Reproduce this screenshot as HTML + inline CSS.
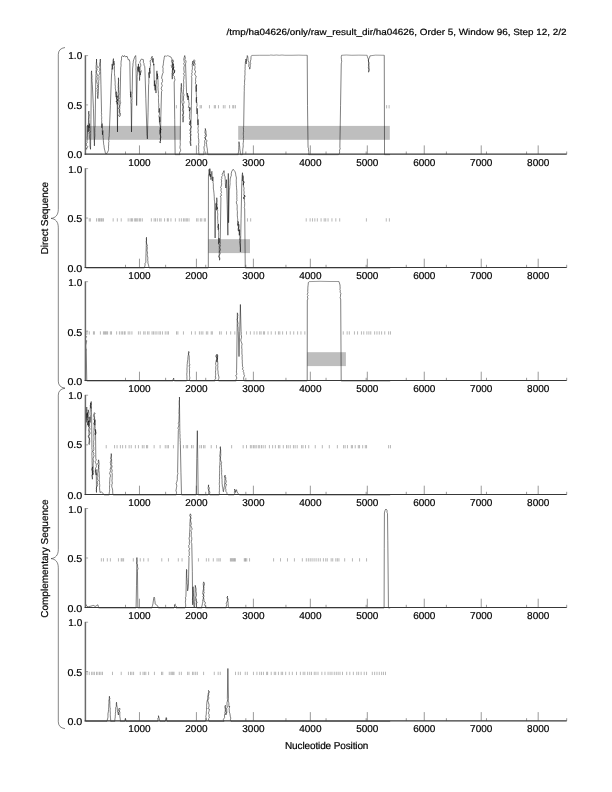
<!DOCTYPE html>
<html><head><meta charset="utf-8"><title>plot</title>
<style>html,body{margin:0;padding:0;background:#fff;}svg{display:block;will-change:transform;}text{stroke:#000;stroke-width:0.2px;text-rendering:geometricPrecision;font-family:"Liberation Sans",sans-serif;fill:#000;}</style>
</head><body>
<svg width="612" height="792" viewBox="0 0 612 792">
<rect x="0" y="0" width="612" height="792" fill="#fff"/>
<text x="566.6" y="35.3" font-size="9" text-anchor="end" textLength="340" lengthAdjust="spacingAndGlyphs">/tmp/ha04626/only/raw_result_dir/ha04626, Order 5, Window 96, Step 12, 2/2</text>
<g>
<rect x="85.4" y="125.9" width="95.2" height="13.9" fill="#bebebe"/>
<rect x="238.2" y="125.9" width="151.6" height="13.9" fill="#bebebe"/>
<path d="M176.4 105.1v3.3M200.14 105.1v3.3M201.39 105.1v3.3M209.44 105.1v3.3M214.31 105.1v3.3M215.42 105.1v3.3M218.47 105.1v3.3M223.33 105.1v3.3M225 105.1v3.3M229.58 105.1v3.3M232.78 105.1v3.3M233.75 105.1v3.3M235.42 105.1v3.3M386.61 105.1v3.3M389.11 105.1v3.3" stroke="#707070" stroke-width="0.5" fill="none"/>
<path d="M85.67 147.22 L86.22 148.89 L86.78 149.31 L86.74 148.48 L87.73 146.59 L86.18 145 L86.36 143.65 L87.21 142.54 L86.96 141.71 L87.2 139.51 L87.25 138.69 L87.16 137.24 L87.38 135.85 L87.35 134.92 L87.47 133.33 L87.53 131.91 L87.59 131.07 L87.66 129.29 L87.76 128.13 L87.72 125.93 L87.89 125 L87.77 126.02 L88.15 127.54 L88.15 128.8 L88.29 130.9 L88.17 131.94 L88.15 130.71 L88.34 129.19 L88.26 127.45 L88.26 126.1 L88.08 125.39 L88.31 124.01 L88.58 122.24 L88.6 120.69 L88.44 119.44 L88.71 117.74 L88.71 116.91 L88.78 115.06 L88.68 114.33 L88.62 112.71 L88.86 111.11 L88.87 112.07 L88.83 113.7 L89.25 115.02 L88.97 116.36 L88.91 118.46 L88.89 119.3 L89.02 121.04 L89.01 122.02 L89.06 123.61 L89.04 124.83 L89.08 126.83 L89.14 127.78 L88.85 126.55 L89.39 124.86 L89.42 123.61 L89.59 124.7 L89.39 126.09 L89.62 128.16 L89.48 129.61 L89.28 130.92 L90.37 131.68 L89.01 133.11 L89.78 134.42 L89.69 136.11 L89.6 137.04 L89.89 139.17 L90.04 139.83 L89.94 141.85 L90 143.03 L90.02 144.55 L89.97 145.83 L90.31 148.01 L90.53 149.31 L90.94 119.44 L91.36 72.22 L91.64 70.83 L91.66 72.39 L91.66 73.78 L91.91 75.3 L92.06 76.8 L91.83 78.05 L92.14 79.36 L91.96 80.35 L92.07 81.72 L92.22 83.17 L92.33 84.72 L93.44 108.33 L94.42 145.83 L94.39 144.77 L94.54 143.18 L94.45 142.3 L94.45 140.11 L94.71 138.81 L94.65 138 L94.8 136.92 L94.9 135.71 L94.87 133.79 L94.79 132.74 L94.91 131.05 L94.81 130.17 L94.84 128.43 L94.91 127.59 L95.18 125.94 L95.11 125 L95.81 77.78 L95.93 76.38 L95.94 75.16 L96.11 73.49 L96.14 72.32 L95.97 70.76 L96.26 69.55 L96.13 68.87 L96.05 67.27 L96.14 65.54 L96.38 64.08 L96.27 63.18 L96.44 62.01 L96.63 60.25 L96.5 59.03 L96.53 59.99 L96.49 61.24 L96.7 63.15 L96.82 64.67 L97.04 65.52 L97.37 67.15 L96.79 68.5 L97.23 69.59 L96.55 71.24 L96.27 72.84 L96.96 73.67 L97.41 75.47 L96.83 76.54 L97.19 77.78 L97.21 79.35 L96.78 80.41 L96.75 81.57 L97.18 83.36 L98.08 84.56 L97.36 85.21 L98 87.08 L96.83 88.44 L97.51 89.17 L97.1 91.26 L97.73 92.12 L97.21 92.99 L97.7 94.54 L97.72 95.7 L97.67 97.12 L97.89 98.61 L97.81 97.03 L98 95.33 L98.19 94.03 L98.31 93.57 L98.4 91.25 L98.46 90.17 L98.51 89.21 L98.43 87.5 L98.45 85.7 L98.58 84.72 L98.71 83.43 L98.65 81.63 L98.63 81.09 L98.99 79.67 L98.85 78.27 L99.12 76.69 L98.58 75.85 L99.34 74.33 L99.95 72.84 L98.88 71.36 L99.84 70.24 L99.74 68.81 L98.82 67.9 L99.09 66.68 L99.77 65.1 L99.56 63.89 L100.11 61.84 L100.14 60.26 L100.39 59.03 L100.94 84.72 L101.5 111.11 L101.36 112.22 L101.7 114.22 L101.36 115.35 L101.62 116.37 L101.73 117.75 L101.58 119.63 L101.74 120.51 L101.66 121.72 L101.73 123.8 L101.76 124.92 L101.7 126.41 L101.78 127.78 L102.04 126.11 L102 124.9 L102.19 123.61 L102.15 124.61 L102.25 126.66 L102.4 127.7 L102.37 129.54 L102.23 130.79 L102.31 131.67 L102.47 132.94 L102.47 134.72 L102.45 133.31 L102.78 132.45 L102.89 130.56 L102.77 131.46 L102.86 133.06 L103.06 135.13 L103.13 135.86 L103.1 137.53 L103.33 139.05 L103.31 140.28 L103.49 142.1 L103.6 143.2 L103.65 144.38 L104 145.61 L104.14 147.22 L104.43 149.15 L104.77 150.19 L105.18 152.08 L105.53 153.47 L106.92 153.47 L107.45 152.37 L108.31 150.69 L108.51 149.54 L108.6 148.35 L108.48 146.88 L108.68 144.89 L108.63 143.78 L108.69 142.29 L108.97 141.41 L108.71 140.48 L108.85 138.5 L108.95 137.26 L109.26 135.75 L109.16 134.21 L109.28 133.33 L110.39 105.56 L111.5 75 L111.6 73.78 L111.73 72.66 L111.93 70.56 L111.72 69.08 L111.89 67.86 L112.03 67.17 L112 65.43 L112.19 63.89 L112.35 65.48 L112.52 66.51 L112.63 67.8 L112.61 69.44 L112.72 67.88 L112.62 66.13 L112.9 64.58 L112.83 63.38 L112.99 61.71 L113.03 60.42 L113.44 58.61 L113.52 59.94 L113.55 61.25 L113.67 62.38 L113.82 64.45 L113.72 65.28 L113.97 64.15 L113.81 62.85 L114 61.11 L113.92 62.46 L114.18 63.42 L114.16 65.5 L114.5 66.78 L114.42 68.06 L114.38 69.94 L114.49 71.15 L114.46 72.65 L114.5 73.56 L114.56 75.14 L114.9 76.85 L114.83 77.78 L114.94 79.02 L115.07 81.01 L115.2 82.39 L115.17 83.19 L115.08 84.4 L115.38 86.54 L115.3 87.12 L115.35 88.81 L115.66 90.09 L115.67 91.67 L115.85 93.22 L115.78 94.68 L116.09 95.77 L116.08 97.22 L116.11 96.18 L116.23 94.27 L115.85 93.24 L116.36 91.67 L116.59 93.51 L116.65 94.93 L116.66 95.61 L116.64 97.19 L116.46 98.89 L117.42 100.49 L116 101.01 L117.19 102.73 L116.78 104.17 L117.54 103.31 L116.35 101.55 L117.57 100.11 L116.66 98.74 L116.85 97.52 L117.19 95.83 L117.47 131.94 L117.75 102.78 L118.08 101.37 L117.98 99.76 L118.67 98.46 L118.15 97.71 L118.17 95.83 L118.2 94.33 L118.02 93.49 L118.34 91.65 L118.2 89.84 L118.44 89.02 L118.13 87.79 L118.34 85.82 L118.18 84.85 L118.36 83.18 L118.5 81.82 L118.53 80.24 L118.35 79.11 L118.44 77.78 L118.56 78.87 L118.67 80.63 L118.48 81.52 L118.52 82.51 L118.49 84.55 L118.58 85.89 L118.55 86.93 L118.73 87.96 L118.58 89.59 L118.75 90.72 L118.86 92.61 L119.04 93.53 L119 94.81 L118.7 95.52 L118.73 97.15 L119 98.61 L118.19 99.59 L119.12 100.9 L119.23 103.11 L118.86 104.35 L119.51 105.09 L119.42 107.11 L118.54 108.54 L119.57 109.72 L119.24 110.94 L119.3 112.49 L119.9 113.73 L118.64 114.94 L119.56 116.67 L120.29 115.53 L120.42 113.51 L119.82 112.74 L119.82 110.76 L119.59 109.68 L119.82 108.6 L119.72 106.62 L119.98 105.19 L120.09 104.49 L120.68 102.4 L120.31 101.55 L120.09 99.84 L120.11 98.61 L120.67 70.83 L120.7 69.92 L120.72 67.64 L120.92 66.74 L121.09 65.64 L120.96 63.39 L121.06 62.54 L121.13 60.93 L121.47 59.96 L121.55 58.83 L121.5 56.94 L122.61 55.56 L123.58 56.94 L124.56 55.56 L125.67 56.94 L127.06 56.25 L127.79 58.34 L128.17 59.72 L129.28 59.72 L129.68 61.29 L129.83 62.5 L130.25 88.89 L130.35 90.01 L130.35 92.12 L130.54 93.48 L130.35 93.99 L130.51 95.57 L130.53 97.22 L130.7 95.52 L130.56 93.99 L130.56 93.25 L130.81 91.67 L130.96 93.12 L130.92 94.39 L130.8 95.88 L131.04 97.03 L130.83 98.44 L131.07 99.75 L130.9 101.53 L130.86 102.82 L131.09 104.06 L131.08 105.56 L131.5 131.94 L131.92 102.78 L132.07 101.54 L131.85 100.37 L132.15 98.66 L132.02 97.33 L132.03 95.72 L131.97 94.23 L132.23 93.34 L132.19 91.67 L132.61 68.06 L132.77 67.11 L132.99 65.2 L132.9 63.93 L133.25 62.57 L133.31 61.11 L133.76 59.7 L134.4 57.87 L134.69 56.94 L135.67 55.56 L135.82 57.41 L135.85 58.73 L135.82 59.2 L135.97 60.74 L135.72 62.77 L135.8 63.7 L135.88 65.17 L136.05 66.8 L136.04 67.67 L135.93 69.48 L136.08 70.83 L136.64 105.56 L137.19 77.78 L137.14 76.46 L137.36 74.58 L137.54 73.27 L137.44 72.43 L137.59 70.59 L137.5 69.38 L137.69 67.59 L137.75 66.67 L137.92 68.49 L138.02 69.72 L138.17 70.83 L138.09 69.41 L138.45 67.96 L138.23 67.07 L138.54 65.42 L138.44 63.89 L138.37 65.15 L138.5 66.61 L138.73 68.2 L138.74 69.71 L138.66 71.21 L138.86 72.22 L139.06 70.48 L138.94 69.07 L139.25 67.69 L139.28 66.67 L139.17 68.27 L139.34 69.84 L139.53 70.53 L139.4 71.73 L139.34 73.9 L139.49 75.36 L139.58 76.3 L139.51 77.8 L139.59 79.63 L139.56 80.56 L139.62 79.31 L139.58 77.49 L139.81 76.74 L140.19 74.62 L140.37 73.8 L139.95 72.64 L139.97 70.83 L140.09 72.36 L140.32 73.9 L140.25 75 L140.2 73.11 L140.95 72.33 L141.2 70.69 L140.07 69.41 L140.06 67.73 L140.68 66.31 L140.84 65.06 L140.53 63.89 L139.88 62.66 L140.18 61.05 L140.94 59.72 L141.39 59.03 L143.47 59.72 L143.39 60.82 L143.45 62.73 L143.97 63.46 L144 65.15 L144.67 66.26 L144.86 68.06 L145.83 98.61 L146.94 133.33 L146.95 134.83 L147.24 136.09 L147.28 137.59 L147.36 138.89 L148.06 112.5 L148.61 84.72 L148.75 83.78 L148.85 82.39 L148.82 80.14 L148.76 79.65 L148.93 78.09 L148.83 76.04 L148.79 74.87 L148.75 73.41 L149.03 72.22 L148.97 73.2 L149.01 74.59 L149.31 75.89 L149.31 77.78 L149.4 76.57 L149.49 75.37 L149.37 73.76 L149.55 72.62 L149.41 71.33 L149.55 69.51 L149.58 68.06 L149.52 69.51 L149.92 71.32 L149.96 72.22 L150 73.61 L150.04 72.58 L149.97 70.45 L149.99 69.56 L150.15 68.05 L150.06 66.97 L150.68 65.25 L150.36 63.85 L150.42 62.5 L149.97 60.81 L151.77 59.38 L151.11 58.33 L152.22 56.25 L152.16 57.38 L152.44 59.56 L152.38 61.39 L152.78 62.5 L152.82 60.73 L152.9 60.09 L153.19 58.33 L153.44 59.96 L153.37 60.85 L153.53 62.41 L153.58 63.89 L153.61 65.28 L153.89 63.89 L154.31 86.11 L154.41 84.87 L154.65 82.98 L154.44 82.42 L154.72 80.56 L154.67 82.13 L154.83 82.96 L154.87 85.23 L154.9 85.88 L154.89 87.81 L155.09 88.89 L155 90.28 L155.05 89.06 L155.07 87.15 L155.2 85.71 L155.42 84.72 L155.52 85.87 L155.7 87.28 L155.71 89.32 L155.7 89.87 L155.89 91.48 L155.97 93.06 L156.11 91.37 L156.13 90.65 L155.92 88.74 L155.96 87.05 L156.03 86.26 L156.05 84.36 L156.38 83.08 L156.25 81.94 L156.24 80.77 L156.47 79.08 L156.39 77.78 L156.52 76.9 L156.57 75.07 L156.67 73.61 L156.88 71.76 L156.94 70.83 L156.93 72.05 L156.92 73.99 L157.11 74.96 L157.29 76.53 L157.32 77.99 L157.22 79.17 L157.45 77.44 L157.44 76.36 L157.49 74.81 L157.5 73.61 L157.39 75.53 L157.92 76.24 L157.78 77.78 L157.83 79.09 L158.03 80.65 L158.02 82.14 L158.06 82.52 L158.08 84.05 L158.15 85.36 L157.95 87.25 L158.06 88.18 L158.08 89.96 L158.27 90.87 L158.36 91.92 L158.43 93.62 L158.33 94.49 L158.51 96.07 L158.54 97.39 L158.47 98.61 L158.46 100.23 L158.52 101.15 L158.53 102.51 L158.74 103.85 L158.85 106 L158.59 107.02 L159.18 108.78 L159.05 110.14 L158.7 111.52 L158.89 112.5 L159.23 111.05 L159.12 109.94 L159.17 108.33 L159.31 109.36 L159.48 110.72 L159.48 112.31 L159.44 114.34 L159 115.76 L158.96 117.08 L159.29 117.69 L159.38 119.09 L159.41 120.62 L159.44 122.22 L159.68 120.98 L159.45 119.4 L159.7 118.18 L159.72 116.67 L159.76 117.54 L160.04 119.32 L160.12 121.3 L159.46 122.62 L159.79 124.11 L159.82 124.91 L160.4 126.24 L160.29 127.82 L159.84 129.58 L159.66 130.15 L160.01 132.23 L160 133.33 L159.99 132.14 L160.5 130.48 L160.74 129.37 L160.14 127.78 L160.95 129.29 L160.31 130.33 L160.67 132.32 L159.76 133.69 L160.24 135.15 L160.61 135.89 L160.99 137.78 L160.08 138.43 L160.59 140.75 L159.47 141.81 L160.42 143.06 L160.83 116.67 L161.53 91.67 L162.1 90.49 L161.18 88.86 L161.58 87.07 L162.34 85.78 L161.89 84.85 L161.54 83.13 L162.55 81.5 L162.33 81.04 L162.39 79.2 L161.56 78.13 L161.94 76.13 L162.22 75 L162.83 73.17 L163.2 72.71 L162.97 71.07 L163.02 69.37 L163.14 68.55 L162.65 66.92 L163.27 64.99 L163.39 63.46 L163.57 62.18 L163.61 61.11 L163.98 59.4 L164.17 58.22 L164.23 57.36 L164.72 55.83M169.17 56.25 L170.83 56.94 L171.67 58.33 L171.93 59.8 L171.41 61.17 L171.81 62 L172.44 64.14 L171.18 65.71 L171.71 66.81 L171.94 68.06 L172.84 68.93 L172.26 70.85 L172.46 72.71 L172.14 73.54 L172.15 75.06 L171.97 76.01 L172.28 77.92 L172.22 79.17 L172.33 78.25 L172.42 76.5 L172.48 75.25 L172.26 73.47 L172.39 71.88 L172.46 70.89 L172.54 69.06 L172.5 68.4 L172.5 66.67 L172.52 65.17 L172.77 63.51 L172.72 62.1 L172.65 61.42 L172.78 59.72 L173.41 61.53 L172.69 62.5 L173.12 63.61 L173.34 65.21 L173.75 66.57 L173.36 68.11 L173.06 69.44 L173.57 67.62 L173.01 66.8 L173.09 65.38 L173.33 63.89 L173.15 64.94 L172.97 66.44 L173.9 67.62 L173.16 68.97 L173.63 70.32 L174.44 72.57 L173.61 73.61 L174.47 71.96 L174.74 70.49 L173.89 69.44 L174.78 70.99 L174.44 72 L173.4 73.5 L173.23 75.21 L174.47 76.63 L174.3 77.71 L174.93 79.46 L174.88 80.18 L174.17 81.94 L174.72 119.44 L175.14 154.65 L180 154.65 L179.4 153.01 L179.69 152.44 L180.61 150.65 L180.54 149.45 L179.95 148.1 L180.03 146.36 L180.26 145.14 L180.34 144.48 L180.18 142.43 L180.22 141.44 L180.31 139.81 L180.28 138.89 L180.56 94.44 L180.77 92.69 L180.91 91.83 L180.94 89.9 L180.82 89.33 L181.02 87.9 L181.19 86.41 L181.19 85.05 L181.39 83.33 L181.38 84.25 L181.67 86.56 L181.46 87.59 L181.61 89.05 L181.64 90 L181.74 91.63 L182.11 93.36 L182.08 94.94 L182.08 95.83 L182.08 97.23 L182.14 98.9 L182.22 99.98 L181.89 101.71 L181.96 102.41 L182.48 104.02 L182.55 106.03 L183.15 106.72 L182.71 108.45 L182.64 109.72 L182.31 110.81 L183.6 112.67 L182.57 114.38 L182.36 114.78 L182.87 116.65 L182.83 118.09 L182.68 119.4 L183.01 120.81 L183.06 122.22 L183.13 120.98 L183.4 119.89 L183.25 118.01 L183.72 116.64 L183.03 115.26 L183.55 113.88 L183.17 112.62 L183.75 110.94 L183.06 109.27 L183.33 108.5 L183.3 106.86 L183.33 105.56 L183.08 104.51 L183.99 102.97 L184.07 101.86 L183.43 100.61 L183.55 99.01 L183.54 98.01 L183.54 96 L184.16 95.02 L183.55 93.72 L183.38 92.5 L183.45 91.18 L183.48 89.68 L183.7 88.85 L183.54 87.71 L183.73 86.24 L183.61 84.72 L183.72 83.28 L183.83 81.93 L183.47 80.86 L183.66 79.66 L183.93 78.03 L183.89 76.62 L184.47 75.15 L183.36 73.88 L184.3 72.61 L184.05 70.77 L183.9 69.87 L183.83 67.81 L184.03 66.67 L184.45 65.59 L183.69 63.49 L184.36 62.46 L184.11 60.92 L183.71 59.18 L184.04 58.12 L184.21 57.4 L184.72 55.56 L185.05 56.97 L185.38 57.79 L184.91 59.49 L186.07 60.97 L185.9 62.36 L185.56 63.89 L186.53 91.67 L186.49 92.71 L186.78 94.96 L187.11 96.23 L187.08 97.22 L187.62 96.32 L187.57 94.04 L187.5 93.06 L187.55 94.35 L187.68 95.57 L187.67 97.6 L187.73 98.95 L187.92 100 L188.19 98.58 L188.25 97.2 L188.33 95.83 L188.54 97.24 L188.46 98.62 L188.75 100.46 L188.71 101.45 L188.97 102.92 L189.17 103.8 L188.89 105.56 L188.27 107.31 L189.35 108.28 L189.43 109.55 L189.31 111.11 L190.31 109.64 L189.86 107.86 L189.58 106.94 L190.03 108.58 L189.39 109.47 L189.61 111.27 L189.85 112.02 L189.67 113.51 L189.53 115.06 L189.57 117.11 L189.3 117.58 L189.83 119.53 L190.54 120.4 L189.9 122.15 L189.31 123.74 L190 125 L190.21 123.29 L190.05 122.14 L190.28 120.83 L190.47 121.86 L190.73 123.34 L189.85 124.74 L191.29 126.33 L191.24 127.46 L190.17 129.33 L189.86 130.49 L190.92 131.81 L189.82 133.16 L190.81 135.03 L190.19 136.33 L190.61 137.42 L190.56 138.89 L190.87 140.21 L190.06 141.19 L190.13 143.13 L190.74 144.32 L190.83 145.83 L190.69 144.18 L190.74 142.94 L190.65 141.63 L190.65 140.43 L190.67 138.86 L190.6 137.37 L190.64 136.24 L191.1 134.92 L190.69 133.33 L191.39 105.56 L191.81 77.78 L191.35 76.68 L192.29 74.93 L191.45 74 L192.3 72.14 L191.88 70.72 L192.27 69.66 L192.47 67.74 L192.29 67.05 L192.33 65.24 L192.08 63.89 L193.23 63 L192.78 61.11 L192.36 62.95 L193.26 64.2 L193.47 65.56 L193.8 64.04 L194.23 62.66 L193.37 60.89 L194.17 59.72 L194.95 60.77 L194.52 62.35 L195.18 64.34 L194.66 65.69 L195 66.67 L195.04 67.69 L194.58 69.99 L195.54 71.1 L195.46 72.22 L194.6 73.94 L194.93 74.85 L196.16 76.01 L195.83 77.78 L195.5 79.65 L195.68 80.92 L195.73 81.6 L195.36 83.39 L196.76 85.2 L196.33 85.76 L195.81 87.84 L196.16 88.93 L196.07 89.96 L196.11 91.67 L196.18 89.9 L196.22 89.33 L196.28 87.2 L196.23 86.59 L196.25 84.72 L196.18 86.41 L196.3 87.39 L196.32 89.15 L196.38 89.94 L196.26 91.77 L196.25 92.79 L196.31 94.13 L196.47 96.16 L196.25 97.68 L196.2 98.23 L196.43 99.55 L196.29 101.23 L196.39 102.78 L196.58 101.59 L196.58 99.94 L196.55 98.42 L196.67 97.22 L196.41 98.55 L196.14 99.97 L196.35 101.59 L196.76 102.28 L196.95 103.77 L197.05 105.36 L196.56 107.39 L196.66 108.58 L196.93 109.38 L197.05 111.21 L196.96 112.94 L196.94 113.89 L197.19 112.37 L196.99 110.72 L197.06 109.97 L197.22 108.33 L197.24 110.1 L197.3 111.13 L197.39 113 L197.4 113.87 L197.73 115.08 L197.64 116.67 L197.56 117.66 L197.74 119.52 L197.79 121.22 L197.76 122.45 L197.96 123.6 L197.92 125 L198.08 124.1 L197.97 122.11 L197.91 120.92 L198.06 119.44 L198.14 120.44 L198.08 122.67 L198 124.11 L198.04 125.17 L198.36 126.07 L197.93 128.28 L198.16 129.64 L198.34 130.95 L197.81 132.05 L198.33 133.33 L198.56 134.24 L198.35 135.48 L198.34 137.49 L198.59 138.99 L198.87 139.9 L198.71 140.97 L198.86 142.79 L198.46 144.06 L198.68 145.01 L198.77 146.76 L198.61 147.87 L198.73 149.16 L198.56 151.02 L198.81 151.59 L198.84 153.4 L198.75 154.65 L203.89 154.65 L203.86 153.45 L204.05 151.33 L204.31 150.47 L204.16 149.01 L203.91 146.95 L204.71 145.52 L204.58 144.44 L204.84 143.26 L204.78 142.11 L204.62 140.84 L205.59 139.28 L204.49 137.54 L205.6 136.58 L204.93 135.41 L205.56 134.27 L204.72 131.98 L205 131.49 L205.35 129.41 L205.28 128.47 L205.73 130.38 L206 131.43 L205.97 133.33 L206.38 134.88 L206.43 136.14 L205.54 137.07 L205.49 139.36 L207.2 140.63 L206.47 141.93 L206.3 142.75 L206.67 144.44 L206.73 145.95 L207.05 147.83 L207.24 148.36 L207.38 150.27 L207.54 151.45 L207.72 153.49 L207.78 154.65 L238.25 154.65 L238.15 153.45 L238.57 151.95 L238.6 151 L238.7 149.88 L238.76 147.79 L238.76 147.01 L238.79 145.88 L238.94 144.61 L238.81 142.89 L238.94 141.67 L239.3 142.93 L239.32 144.54 L239.64 145.83 L239.79 147.74 L239.78 148.33 L239.99 150.16 L240.34 152.03 L240.33 153.3 L240.61 154.65 L242.42 154.65 L242.72 153.22 L242.69 151.41 L242.76 149.76 L242.86 148.49 L243.11 147.22 L243.23 145.62 L243.11 144.41 L243.11 142.91 L243.37 142.43 L243.45 140.52 L243.62 139.08 L243.3 138.45 L243.54 136.75 L243.43 135.55 L243.33 134.63 L243.37 132.63 L243.63 131.92 L243.49 130.08 L243.52 129.36 L243.36 127.56 L243.67 126.39 L244.22 91.67 L244.33 90.33 L244.21 88.82 L244.36 88 L244.21 85.88 L244.73 84.65 L244.48 83.75 L244.56 82.44 L244.55 81.01 L244.9 78.73 L244.78 77.78 L244.73 76.18 L245.05 74.62 L244.97 73.86 L245.01 72.66 L244.92 70.77 L245.22 69.17 L245.04 68.21 L245.19 66.29 L245.17 64.79 L245.33 63.89 L245.34 62.38 L245.82 60.51 L245.89 59.03 L246.21 60.99 L246.05 62.38 L246.31 63.89 L246.28 62.02 L246.39 60.73 L246.64 59.23 L246.72 58.33 L247.1 57.21 L247.28 55.56 L247.73 56.63 L247.97 58.33 L248.04 60.27 L248.32 61.16 L249.04 62.76 L248.94 63.89 L248.93 65.04 L248.54 66.19 L250.24 67.97 L249.64 69.17 L249.59 68.07 L250.32 66.51 L250.15 64.91 L250.73 63.47 L250.33 62.5 L250.4 61.1 L250.9 59.53 L251 57.45 L251.17 56.25M307.22 55.28 L307.5 105.56 L308.06 147.22 L308.56 148.42 L308.43 149.73 L308.82 151.77 L308.87 152.7 L308.61 154.65 L338.47 154.65 L339.52 153.3 L339.61 151.41 L339.54 150.03 L340.2 148.89 L339.86 147.22 L340.56 105.56 L341.25 63.89 L341.47 62.56 L341.7 61.54 L341.44 59.4 L341.26 57.63 L341.3 56.65 L341.67 55.28M367.3 56.35 L368 58.33 L368.65 59.25 L368.29 60.95 L368.76 62.15 L368.73 63.6 L368.52 65.07 L368.77 66.48 L368.24 67.8 L368.79 69.16 L369.05 71.04 L368.56 72.22 L368.57 71.22 L369.17 69.6 L369.12 67.96 L368.86 66.72 L368.85 65.62 L368.92 63.67 L368.89 62.9 L368.51 61.16 L368.43 59.27 L369.11 58.33 L369.63 57.38 L369.94 55.83M384.25 55.28 L384.53 154.65 L390.08 154.65" stroke="#000" stroke-width="0.5" fill="none" stroke-linejoin="round"/>
<path d="M164.72 55.83 L166.39 56.25 L167.78 55.56 L169.17 56.25M251.17 56.25 L251.72 55.42 L259.78 55.28 L269.5 55.28 L270.89 55 L273.67 55.28 L276.44 55 L279.22 55.28 L282 55 L284.78 55.28 L292 55.28 L298.89 55.14 L303.06 55.28 L307.22 55.28M341.67 55.28 L341.61 55.28 L346.33 55 L351.89 55.28 L358.83 55.14 L367.17 55.28 L367.3 56.35M369.94 55.83 L375.5 55.14 L384.25 55.28" stroke="#000" stroke-width="0.4" fill="none" stroke-linejoin="round"/>
<path d="M85.4 55.6h2.7 M85.4 104.9h2.7" stroke="#555" stroke-width="0.5" fill="none"/>
<path d="M139.46 154.2v-8.8M196.42 154.2v-8.8M253.38 154.2v-8.8M310.34 154.2v-8.8M367.3 154.2v-8.8M424.26 154.2v-8.8M481.22 154.2v-8.8M538.18 154.2v-8.8M125.51 154.2v-2.7M165.62 154.2v-2.7M205.73 154.2v-2.7M245.83 154.2v-2.7M285.94 154.2v-2.7M326.05 154.2v-2.7M366.16 154.2v-2.7M406.27 154.2v-2.7M446.38 154.2v-2.7M486.48 154.2v-2.7M526.59 154.2v-2.7M566.7 154.2v-2.7" stroke="#333" stroke-width="0.5" fill="none"/>
<path d="M85.4 55.3V154.75" stroke="#6a6a6a" stroke-width="1.5" fill="none"/>
<path d="M84.65 154.2H566.7" stroke="#383838" stroke-width="1.25" fill="none"/>
<text x="68.3" y="58.9" font-size="10">1.0</text>
<text x="67.4" y="108.9" font-size="10" textLength="14.9" lengthAdjust="spacingAndGlyphs">0.5</text>
<text x="67.4" y="158" font-size="10" textLength="14.9" lengthAdjust="spacingAndGlyphs">0.0</text>
<text x="128.36" y="165.9" font-size="10">1000</text>
<text x="185.32" y="165.9" font-size="10">2000</text>
<text x="242.28" y="165.9" font-size="10">3000</text>
<text x="299.24" y="165.9" font-size="10">4000</text>
<text x="356.2" y="165.9" font-size="10">5000</text>
<text x="413.16" y="165.9" font-size="10">6000</text>
<text x="470.12" y="165.9" font-size="10">7000</text>
<text x="527.08" y="165.9" font-size="10">8000</text>
</g>
<g>
<rect x="208.4" y="239.2" width="41.6" height="13.9" fill="#bebebe"/>
<path d="M89.28 218.25v3.3M90.39 218.25v3.3M96.5 218.25v3.3M98.31 218.25v3.3M99.28 218.25v3.3M100.11 218.25v3.3M101.36 218.25v3.3M102.19 218.25v3.3M103.44 218.25v3.3M113.17 218.25v3.3M117.33 218.25v3.3M121.22 218.25v3.3M128.17 218.25v3.3M130.11 218.25v3.3M131.5 218.25v3.3M132.61 218.25v3.3M134.69 218.25v3.3M135.67 218.25v3.3M136.78 218.25v3.3M137.89 218.25v3.3M139.56 218.25v3.3M140.67 218.25v3.3M142.33 218.25v3.3M151.36 218.25v3.3M154.14 218.25v3.3M155.53 218.25v3.3M157.33 218.25v3.3M159.69 218.25v3.3M161.08 218.25v3.3M164.56 218.25v3.3M167.33 218.25v3.3M168.31 218.25v3.3M170.94 218.25v3.3M175.39 218.25v3.3M179.28 218.25v3.3M181.36 218.25v3.3M183.44 218.25v3.3M184.83 218.25v3.3M186.22 218.25v3.3M187.33 218.25v3.3M189 218.25v3.3M196.64 218.25v3.3M198.03 218.25v3.3M200.39 218.25v3.3M201.78 218.25v3.3M204.28 218.25v3.3M205.39 218.25v3.3M247.47 218.25v3.3M250.67 218.25v3.3M306.22 218.25v3.3M310.11 218.25v3.3M312.47 218.25v3.3M314.83 218.25v3.3M317.33 218.25v3.3M321.08 218.25v3.3M324.18 218.25v3.3M325.73 218.25v3.3M328.06 218.25v3.3M331.94 218.25v3.3M335.82 218.25v3.3M339.7 218.25v3.3M366.4 218.25v3.3M386.27 218.25v3.3M389.38 218.25v3.3" stroke="#707070" stroke-width="0.5" fill="none"/>
<path d="M85.9 267.95 L144.42 267.95 L144.77 266.15 L145.11 265.08 L145.01 263.2 L145.94 262.2 L145.81 260.22 L146.5 237.31 L146.34 238.57 L146.53 240.21 L146.28 241.54 L146.48 242.98 L146.88 244.35 L147.46 245.59 L147.02 246.34 L147.36 247.58 L147.19 249.11 L147 250.53 L147.33 251.68 L147.57 253.24 L147.21 254.31 L147.41 255.76 L147.86 257.82 L147.79 258.5 L147.71 260.29 L147.97 261.56 L147.89 263 L148.5 264.91 L148.8 266.29 L149 267.95 L208.31 267.95 L208.44 176.89 L208.48 174.91 L208.76 173.88 L209.01 172.16 L209.1 171.11 L209.14 169.25 L209.09 170.81 L209.35 171.96 L209.47 173.94 L209.56 175.5 L209.57 173.86 L209.84 172.26 L209.87 171.09 L209.85 170.34 L209.83 168.56 L210.07 170.4 L210.14 171.73 L210.09 172.73 L209.97 174.61 L210.28 175.65 L210.25 176.89 L210.28 175.92 L210.53 174.11 L210.69 175.81 L210.75 177.24 L210.96 177.88 L210.94 179.67 L210.94 178.79 L211.11 177.26 L211.35 175.5 L211.42 174.35 L211.36 172.72 L211.92 171.33 L212.07 172.8 L212.1 173.91 L212.03 175.22 L212.28 176.59 L212.15 178.66 L212.34 180.11 L212.33 181.06 L212.57 179.7 L212.89 178.02 L212.89 176.89 L212.97 178.78 L213.07 179.32 L213.17 181.57 L212.95 182.89 L213.23 183.31 L213.34 184.75 L213.35 186.87 L213.31 188 L213.54 189.81 L213.72 190.78 L213.9 192.44 L214.01 193.44 L214.12 194.81 L214.2 196.3 L214.3 198.09 L214.28 199.11 L214.51 200.86 L214.69 201.89 L215.11 238 L215.39 213 L215.45 211.88 L215.68 210.48 L215.67 208.83 L215.6 207.63 L215.97 205.78 L215.82 204.96 L216.08 203.28 L216.02 204.54 L216.36 206.11 L216.33 207.61 L216.25 208.71 L216.36 210.22 L216.42 208.53 L216.62 207.07 L216.57 205.72 L216.61 205.1 L216.54 203.44 L216.8 201.76 L216.68 200.1 L216.69 199.08 L216.78 197.72 L216.9 199.24 L217.02 200.65 L216.82 202.29 L216.98 203.64 L217.21 204.61 L216.98 205.55 L217.19 207.63 L217.19 208.83 L217.47 207.44 L217.52 209.3 L217.73 210.5 L217.56 211.48 L217.58 212.73 L217.81 214.15 L217.69 215.73 L217.64 217 L217.67 219.06 L217.75 219.9 L217.89 221.33 L217.8 222.77 L218.08 223.83 L218.03 225.05 L217.93 227.4 L218.3 228.34 L218.17 229.67 L218.31 228.07 L218.25 226.49 L218.56 225.01 L218.44 224.11 L218.45 225.62 L218.32 227.12 L218.63 228.56 L218.46 229.78 L218.58 231.18 L218.71 232.59 L218.58 234.06 L218.74 235.12 L218.6 236.26 L218.6 237.98 L218.73 238.98 L218.77 240.88 L218.64 241.97 L218.72 243.56 L218.9 241.75 L218.73 240.76 L218.86 239.19 L219 238 L219.4 239.6 L219.32 240.43 L219.42 242.16 L218.57 243.73 L219.45 245.2 L219.17 246.25 L219.33 247.79 L219.21 249.23 L219.31 250.35 L219.11 252.01 L219.22 252.85 L219.28 254.67 L219.08 255.56 L219.05 257.29 L219.72 258.52 L219.56 260.22 L219.62 259.34 L219.64 257.22 L218.76 256.8 L219.63 254.69 L220.23 253.46 L219.79 252.17 L219.61 250.67 L220.51 250.27 L220.08 248.45 L219.77 247.21 L220.44 245.52 L219.92 244.87 L220.28 243.66 L220.2 241.61 L220.18 240.19 L220.25 239.39 L220.94 197.72 L220.23 196.2 L221.56 195.46 L220.77 193.53 L221.55 192.48 L221.15 191.12 L220.86 190.1 L221.33 188.8 L220.58 187.35 L221.12 186.44 L221.5 184.92 L221.69 183.86 L221.36 182.34 L221.69 180.97 L221.25 179.2 L221.83 178.62 L221.64 176.89 L222.81 175.42 L222.11 174.32 L223.03 172.72 L224 170.64 L224.27 172.03 L224.05 173.56 L224.44 175.16 L225.11 176.89 L225.13 178.71 L225.31 180.06 L225.31 181.36 L225.42 182.11 L225.35 183.35 L225.44 184.79 L225.57 186.46 L225.81 188 L226.03 186.99 L226.04 185.27 L226.04 184.1 L226.4 182.37 L226.27 181.17 L226.5 179.67 L227.19 204.67 L227.89 235.22 L228.31 173.42 L228.58 222.72 L229.28 190.78 L229.47 189.23 L229.7 187.75 L229.69 186.87 L229.87 185.65 L230.09 183.36 L229.99 182.46 L230.06 181.19 L230.21 179.2 L230.39 178.28 L230.82 176.68 L231.39 175.24 L231.17 173.91 L231.36 173.17 L231.78 171.33 L233.17 169.25 L234.08 170.42 L234.83 171.33 L235.54 173.14 L235.7 174.5 L235.88 175.86 L236.22 176.89 L236.42 178.05 L236.33 179.23 L236.25 180.44 L236.31 181.75 L236.29 183.78 L236.36 184.82 L236.4 185.8 L236.57 187.65 L236.57 188.1 L236.76 190.34 L236.84 191.45 L236.8 193.01 L236.72 193.82 L236.94 195.16 L236.75 196.63 L236.92 197.72 L236.81 199.39 L237.02 200.59 L236.36 201.72 L236.4 203 L237 204.6 L237.2 206.28 L237.17 207.23 L237.08 209.29 L237.28 210.56 L237.41 211.56 L237.37 213.05 L237.3 214.89 L237.33 215.78 L237.51 217.48 L237.61 218.56 L237.77 219.63 L237.61 221.56 L237.93 222.79 L237.72 224.56 L237.89 225.5 L237.87 223.72 L238.15 223.08 L238.17 221.33 L238.32 222.45 L238.2 223.87 L238.14 225.59 L238.46 227.36 L238.24 227.93 L238.25 229.77 L238.44 231.06 L238.32 229.15 L238.5 228.16 L238.67 226.39 L238.7 225.96 L238.72 224.11 L239 225.5 L239 226.52 L238.89 228.7 L239.16 229.99 L238.87 231.33 L239.34 232.52 L239.22 233.35 L239.28 235.22 L239.39 234.18 L239.37 232.67 L239.5 231.3 L239.56 229.67 L239.64 231.12 L239.52 232.6 L239.58 233.56 L239.6 235.73 L239.82 236.28 L239.88 237.91 L239.51 238.93 L239.83 240.78 L239.59 242.63 L239.81 243.58 L240.05 245.25 L240.11 246.33 L240.33 247.6 L240.36 248.9 L240.33 250.26 L240.39 251.89 L241.08 218.56 L241.78 183.83 L241.87 182.26 L241.85 181.28 L241.89 179.85 L242.03 178.39 L242.08 176.79 L242.19 175.5 L242.35 173.87 L242.47 172.72 L242.64 174.36 L242.41 175.5 L242.54 176.46 L242.6 177.89 L242.65 179.83 L242.75 181.06 L242.83 179.24 L243.04 177.96 L243.05 176.83 L243.03 175.5 L243.19 176.77 L243.28 178.29 L243.33 180.07 L243.26 180.81 L243.37 182.73 L243.38 184.12 L243.31 185.22 L243.27 183.63 L244.02 182.56 L243.58 181.06 L243.86 182.25 L243.42 184.24 L243.58 185.28 L243.48 186.17 L244.12 188.21 L243.91 189.08 L243.86 190.78 L244.18 191.88 L244.13 193.07 L243.82 194.64 L244.45 196.08 L243.38 197.88 L244.14 199.11 L243.78 197.6 L244.91 196.23 L244.42 194.94 L244.96 196.56 L243.91 198.12 L244.45 198.77 L244.28 200.13 L244.47 201.78 L244.71 203.32 L244.64 205.14 L244.59 206.33 L244.25 207.58 L244.69 208.83 L245.25 267.95 L390.2 267.95" stroke="#000" stroke-width="0.5" fill="none" stroke-linejoin="round"/>
<path d="M85.4 168.6h2.7 M85.4 218.05h2.7" stroke="#555" stroke-width="0.5" fill="none"/>
<path d="M139.46 267.5v-8.8M196.42 267.5v-8.8M253.38 267.5v-8.8M310.34 267.5v-8.8M367.3 267.5v-8.8M424.26 267.5v-8.8M481.22 267.5v-8.8M538.18 267.5v-8.8M125.51 267.5v-2.7M165.62 267.5v-2.7M205.73 267.5v-2.7M245.83 267.5v-2.7M285.94 267.5v-2.7M326.05 267.5v-2.7M366.16 267.5v-2.7M406.27 267.5v-2.7M446.38 267.5v-2.7M486.48 267.5v-2.7M526.59 267.5v-2.7M566.7 267.5v-2.7" stroke="#333" stroke-width="0.5" fill="none"/>
<path d="M85.4 168.3V268.05" stroke="#6a6a6a" stroke-width="1.5" fill="none"/>
<path d="M84.65 267.5H566.7" stroke="#383838" stroke-width="1.0" fill="none"/>
<text x="68.3" y="172.7" font-size="10">1.0</text>
<text x="67.4" y="222.05" font-size="10" textLength="14.9" lengthAdjust="spacingAndGlyphs">0.5</text>
<text x="67.4" y="272" font-size="10" textLength="14.9" lengthAdjust="spacingAndGlyphs">0.0</text>
<text x="128.36" y="279" font-size="10">1000</text>
<text x="185.32" y="279" font-size="10">2000</text>
<text x="242.28" y="279" font-size="10">3000</text>
<text x="299.24" y="279" font-size="10">4000</text>
<text x="356.2" y="279" font-size="10">5000</text>
<text x="413.16" y="279" font-size="10">6000</text>
<text x="470.12" y="279" font-size="10">7000</text>
<text x="527.08" y="279" font-size="10">8000</text>
</g>
<g>
<rect x="307.3" y="352.2" width="38.6" height="13.9" fill="#bebebe"/>
<path d="M87.06 331.3v3.3M89.28 331.3v3.3M93.44 331.3v3.3M94.42 331.3v3.3M100.39 331.3v3.3M103.44 331.3v3.3M104.56 331.3v3.3M105.53 331.3v3.3M106.64 331.3v3.3M107.61 331.3v3.3M110.39 331.3v3.3M111.5 331.3v3.3M116.64 331.3v3.3M119.42 331.3v3.3M121.22 331.3v3.3M122.61 331.3v3.3M124.28 331.3v3.3M125.11 331.3v3.3M128.17 331.3v3.3M129.83 331.3v3.3M131.92 331.3v3.3M138.44 331.3v3.3M140.25 331.3v3.3M143.72 331.3v3.3M145.11 331.3v3.3M147.61 331.3v3.3M149 331.3v3.3M152.06 331.3v3.3M153.44 331.3v3.3M155.11 331.3v3.3M156.92 331.3v3.3M159 331.3v3.3M160.39 331.3v3.3M162.47 331.3v3.3M165.25 331.3v3.3M167.06 331.3v3.3M168.44 331.3v3.3M176.5 331.3v3.3M177.89 331.3v3.3M183.44 331.3v3.3M191.5 331.3v3.3M195.25 331.3v3.3M199.42 331.3v3.3M201.22 331.3v3.3M202.89 331.3v3.3M206.36 331.3v3.3M207.75 331.3v3.3M211.22 331.3v3.3M212.33 331.3v3.3M219.56 331.3v3.3M221.22 331.3v3.3M226.5 331.3v3.3M230.67 331.3v3.3M234.83 331.3v3.3M246.5 331.3v3.3M250.39 331.3v3.3M254.14 331.3v3.3M256.92 331.3v3.3M259.69 331.3v3.3M261.08 331.3v3.3M263.44 331.3v3.3M264.56 331.3v3.3M268.03 331.3v3.3M271.22 331.3v3.3M275.39 331.3v3.3M278.44 331.3v3.3M279.83 331.3v3.3M282.61 331.3v3.3M286.5 331.3v3.3M290.25 331.3v3.3M293.72 331.3v3.3M297.61 331.3v3.3M300.94 331.3v3.3M304.83 331.3v3.3M343.27 331.3v3.3M347.15 331.3v3.3M349.33 331.3v3.3M354.45 331.3v3.3M357.55 331.3v3.3M361.44 331.3v3.3M363.76 331.3v3.3M366.87 331.3v3.3M368.89 331.3v3.3M370.75 331.3v3.3M374.63 331.3v3.3M376.96 331.3v3.3M379.29 331.3v3.3M381.62 331.3v3.3M384.72 331.3v3.3M388.6 331.3v3.3M390.46 331.3v3.3" stroke="#707070" stroke-width="0.5" fill="none"/>
<path d="M85.67 331.56 L85.62 333.25 L85.78 334.35 L85.32 336.06 L86.53 336.61 L85.48 338.17 L85.49 340.2 L86.74 340.75 L86.34 342.84 L86.02 344.29 L85.85 345.32 L85.8 347.03 L86.1 348.71 L86.48 349.53 L86.22 351 L86.78 380.95 L173.17 380.95 L173.05 379.65 L173.72 378.08 L173.83 379.79 L174.28 380.95 L186.64 380.95 L187.01 379.41 L186.89 378.23 L186.95 376.77 L186.92 375.93 L186.74 374.57 L186.93 372.66 L187.04 372 L187.02 370.65 L186.93 368.99 L187.06 367.82 L187.15 366.36 L187.11 364.69 L187.33 363.96 L187.33 362.11 L187.58 361.08 L187.82 359.72 L187.89 357.94 L188 356.5 L188.15 355.66 L188.54 354.1 L188.35 353.1 L188.72 351.42 L189.2 352.42 L188.55 353.88 L189.04 355.61 L189.31 356.92 L189.19 357.8 L189.25 359.09 L189.34 360.68 L189.28 362.11 L189.28 363.16 L190.02 365.12 L188.9 365.68 L189.9 367.93 L189.35 368.41 L189.44 370.21 L189.58 372.04 L189.48 373.13 L189.5 374.49 L189.52 375.42 L189.58 376.45 L189.88 377.92 L189.41 379.87 L189.83 380.95 L215.11 380.95 L214.95 379.36 L216.11 377.85 L215.26 377.28 L215.59 375.7 L215.71 373.89 L215.51 372.91 L215.43 372.24 L215.67 370.44 L215.83 369.28 L215.71 367.78 L215.75 366.65 L216.19 365.09 L215.59 364.29 L215.77 362.58 L216.24 360.66 L216.45 359.56 L216.94 358.21 L215.97 356.93 L216.21 355.68 L216.5 354.47 L216.07 356.05 L216.85 357.98 L217.2 359.54 L216.36 360.67 L217.06 362.11 L217.02 360.71 L217.12 359.38 L217.44 357.26 L217.49 355.53 L217.47 354.47 L217.71 355.58 L217.58 357.51 L217.58 358.01 L217.43 359.35 L217.63 361.64 L217.68 362.19 L217.88 363.33 L217.7 365.44 L217.9 366.88 L217.68 368.11 L217.77 369.55 L217.89 370.44 L218.13 371.89 L217.99 373.1 L218.36 374.59 L218.64 376.01 L219 377.08 L218.78 378.61 L218.15 379.91 L218.58 380.95 L236.22 380.95 L235.96 379.25 L236.98 378.28 L236.44 376.95 L235.78 375.29 L236.97 374.32 L236.66 373.14 L236.39 372.18 L236.51 370.3 L236.64 369.06 L237.33 312.81 L237.67 313.76 L237.9 315.75 L237.56 316.65 L237.71 317.71 L237.1 319.84 L237.53 320.73 L237.73 322.01 L238.11 323.53 L237.74 324.69 L237.88 326.46 L238.2 327.47 L238.11 328.89 L238.11 330.15 L238.31 331.56 L239 356.56 L239.69 331.56 L240.39 304.47 L241.08 331.56 L241.25 333.02 L241.13 334.6 L241.39 335.31 L241.55 337.41 L241.36 337.99 L240.75 340.07 L241.22 341.73 L241.68 342.9 L242.13 344.26 L241.78 345.44 L241.72 346.45 L241.72 348.08 L242.01 349.54 L241.91 350.84 L241.91 352.11 L241.93 354.2 L242.29 355.32 L242.11 356.19 L242.13 358.06 L242.16 359.52 L242.39 360.99 L242.26 361.85 L242.3 363.09 L242.47 364.89 L242.41 366.21 L243.04 367.47 L242.38 369.11 L243.52 370.34 L243.17 371.83 L243.85 372.65 L243.99 374.62 L244.5 375.28 L244.01 377.01 L243.56 377.88 L243.84 379.82 L244.28 380.95 L307.2 380.95 L307.3 300 L307.95 298.98 L307.39 296.8 L308.07 295.27 L307.23 294.36 L307.95 292.75 L307.69 291.41 L307.8 290 L307.84 288.21 L307.87 287.26 L308.08 285.32 L308.24 284.07 L308.3 282.5 L309.5 281.6M338.9 281.5 L339.38 282.88 L340 285 L340.05 286.27 L340.16 288.1 L339.94 289.62 L340.34 290.53 L340.04 292.08 L340.89 293.33 L340.51 295.07 L340.5 296.45 L340.09 297.83 L340.7 299 L341.2 380.95 L390.2 380.95" stroke="#000" stroke-width="0.5" fill="none" stroke-linejoin="round"/>
<path d="M309.5 281.6 L320 281.3 L330 281.5 L338.9 281.5" stroke="#000" stroke-width="0.4" fill="none" stroke-linejoin="round"/>
<path d="M85.4 281.7h2.7 M85.4 331.1h2.7" stroke="#555" stroke-width="0.5" fill="none"/>
<path d="M139.46 380.5v-8.8M196.42 380.5v-8.8M253.38 380.5v-8.8M310.34 380.5v-8.8M367.3 380.5v-8.8M424.26 380.5v-8.8M481.22 380.5v-8.8M538.18 380.5v-8.8M125.51 380.5v-2.7M165.62 380.5v-2.7M205.73 380.5v-2.7M245.83 380.5v-2.7M285.94 380.5v-2.7M326.05 380.5v-2.7M366.16 380.5v-2.7M406.27 380.5v-2.7M446.38 380.5v-2.7M486.48 380.5v-2.7M526.59 380.5v-2.7M566.7 380.5v-2.7" stroke="#333" stroke-width="0.5" fill="none"/>
<path d="M85.4 281.4V381.05" stroke="#6a6a6a" stroke-width="1.5" fill="none"/>
<path d="M84.65 380.5H566.7" stroke="#383838" stroke-width="1.0" fill="none"/>
<text x="68.3" y="286" font-size="10">1.0</text>
<text x="67.4" y="336.2" font-size="10" textLength="14.9" lengthAdjust="spacingAndGlyphs">0.5</text>
<text x="67.4" y="385" font-size="10" textLength="14.9" lengthAdjust="spacingAndGlyphs">0.0</text>
<text x="128.36" y="392" font-size="10">1000</text>
<text x="185.32" y="392" font-size="10">2000</text>
<text x="242.28" y="392" font-size="10">3000</text>
<text x="299.24" y="392" font-size="10">4000</text>
<text x="356.2" y="392" font-size="10">5000</text>
<text x="413.16" y="392" font-size="10">6000</text>
<text x="470.12" y="392" font-size="10">7000</text>
<text x="527.08" y="392" font-size="10">8000</text>
</g>
<g>
<path d="M106.22 445.05v3.3M114.56 445.05v3.3M117.06 445.05v3.3M120.39 445.05v3.3M122.61 445.05v3.3M125.67 445.05v3.3M129.14 445.05v3.3M131.22 445.05v3.3M135.39 445.05v3.3M138.44 445.05v3.3M142.33 445.05v3.3M144 445.05v3.3M146.5 445.05v3.3M147.61 445.05v3.3M154.14 445.05v3.3M160.11 445.05v3.3M165.25 445.05v3.3M167.06 445.05v3.3M168.44 445.05v3.3M173.44 445.05v3.3M183.44 445.05v3.3M186.22 445.05v3.3M187.61 445.05v3.3M191.5 445.05v3.3M193.17 445.05v3.3M199.83 445.05v3.3M201.5 445.05v3.3M203.58 445.05v3.3M204.97 445.05v3.3M211.22 445.05v3.3M216.5 445.05v3.3M231.64 445.05v3.3M243.17 445.05v3.3M246.5 445.05v3.3M250.39 445.05v3.3M251.78 445.05v3.3M253.44 445.05v3.3M254.83 445.05v3.3M256.22 445.05v3.3M258.31 445.05v3.3M259.69 445.05v3.3M261.5 445.05v3.3M263.17 445.05v3.3M265.25 445.05v3.3M269.42 445.05v3.3M272.61 445.05v3.3M275.39 445.05v3.3M278.44 445.05v3.3M279.83 445.05v3.3M283.31 445.05v3.3M286.5 445.05v3.3M288.17 445.05v3.3M290.25 445.05v3.3M293.44 445.05v3.3M295.11 445.05v3.3M297.19 445.05v3.3M301.64 445.05v3.3M303.03 445.05v3.3M305.53 445.05v3.3M308.72 445.05v3.3M315.25 445.05v3.3M322.32 445.05v3.3M329.3 445.05v3.3M337.37 445.05v3.3M343.58 445.05v3.3M345.14 445.05v3.3M347.46 445.05v3.3M351.35 445.05v3.3M352.43 445.05v3.3M355.23 445.05v3.3M358.33 445.05v3.3M359.57 445.05v3.3M362.68 445.05v3.3M365.32 445.05v3.3M366.56 445.05v3.3M388.6 445.05v3.3M390.46 445.05v3.3" stroke="#707070" stroke-width="0.5" fill="none"/>
<path d="M85.67 430.67 L85.65 429.55 L85.71 428.04 L85.91 426.22 L85.84 425.07 L85.7 423.91 L85.77 422.25 L85.74 420.66 L85.96 419.92 L85.75 418.13 L85.87 417.22 L86.07 415.47 L85.94 414 L85.83 415.3 L85.93 416.95 L86.09 417.9 L85.99 419.41 L86 420.6 L86.22 422.33 L86.26 421.05 L86.42 419.97 L86.14 417.93 L86.42 416.59 L86.45 415.89 L86.46 413.94 L86.43 412.54 L86.38 411.68 L86.5 410 L86.5 408.44 L86.78 407.06 L86.91 408.55 L86.95 409.41 L86.9 411.63 L87.07 412.4 L86.83 414.14 L86.88 414.93 L87.09 417.23 L87.06 418.17 L87.15 416.31 L87.13 415.47 L87.33 414.04 L87.33 412.61 L87.2 413.57 L87.4 415.61 L87.26 416.45 L86.99 417.81 L87.31 419.49 L87.37 420.98 L87.55 422.78 L87.57 424.02 L87.61 425.11 L87.59 423.44 L88.36 422.42 L88.56 420.94 L87.33 419.86 L87.36 418.39 L88.28 417.11 L87.89 415.39 L87.25 413.71 L88.26 412.13 L88.59 411.03 L88.17 409.83 L88.17 411.6 L88.42 412.57 L88.23 414.03 L88.18 415.53 L87.79 416.5 L88.77 417.81 L88.27 419.07 L88.91 421.25 L87.8 421.83 L88.56 423.73 L88.27 425.49 L88.44 426.5 L88.99 425.2 L88.6 423.96 L88.46 422.73 L88.72 420.94 L88.98 421.93 L89.15 424.17 L88.72 424.63 L88.64 426.62 L89.19 427.76 L88.63 429.35 L88.5 430.89 L89.05 431.86 L88.86 433.12 L89 434.83 L88.15 435.92 L88.67 437.98 L89.41 438.88 L89.66 440.18 L89.71 442.15 L89.14 443.64 L89.28 444.56 L88.86 442.77 L89.05 442.05 L89.11 440.64 L89.36 439.08 L89.69 438.1 L88.84 436.72 L89.4 434.87 L90.25 433.04 L89.6 431.91 L89.56 430.67 L90.14 428.81 L89.4 427.84 L89.85 426.98 L89.57 425.48 L89.6 423.69 L89.83 422.54 L89.7 420.65 L89.69 419.55 L89.79 417.7 L89.83 416.78 L90.01 418.24 L90.03 419.92 L89.91 420.77 L90.11 422.33 L90.02 421.14 L90.27 419.61 L90.19 418.07 L90.37 416.76 L90.33 415.16 L90.06 414.39 L90.12 412.39 L90.31 411.3 L90.35 410.34 L90.23 408.51 L90.39 407.06 L90.3 405.25 L90.68 404.8 L90.67 402.89 L90.63 404.23 L90.67 405.37 L90.52 406.76 L90.94 408.44 L91.12 406.58 L90.91 405.59 L90.97 404.11 L91.16 402.48 L91.22 401.5 L91.11 403.01 L91.4 404.76 L91.2 405.31 L91.22 406.88 L91.4 408.04 L91.51 409.78 L91.5 411.22 L91.46 412.85 L91.5 414.12 L91.53 415.24 L91.64 416.78 L91.92 447.33 L91.86 448.86 L92.09 449.73 L92.11 451.39 L91.96 452.37 L91.83 454.63 L92.02 456.09 L91.96 456.87 L92.06 458.44 L92.13 460.14 L92.01 460.9 L92.08 462.14 L92.13 463.78 L92.2 465.37 L92.21 466.74 L92.31 468.02 L92.19 469.56 L92.28 470.5 L92.3 471.98 L92.38 474.09 L92.16 475.26 L92.26 476.96 L92.28 477.89 L92.33 479.28 L92.51 478.09 L92.23 476.75 L92.11 475.34 L92.9 473.35 L92.36 472.37 L92.46 471 L91.69 469.98 L91.92 468.63 L92.61 466.78 L92.48 468.33 L92.51 469.3 L93.17 471.37 L92.71 472.12 L93.21 473.2 L92.89 475.11 L92.77 473.69 L92.99 472.56 L92.99 471.33 L93.09 469.37 L93.24 467.82 L93.26 466.39 L92.99 465.06 L93.17 464 L93.19 462.86 L93.42 461.04 L93.18 459.57 L93.1 458.27 L93.73 456.93 L94.04 455.5 L93.44 454.28 L94.06 453.14 L92.6 451.77 L93.92 449.93 L93.75 449.2 L93.8 447.17 L93.45 446.19 L93.72 444.56 L93.73 442.72 L93.56 441.76 L93.83 440.24 L93.94 439.24 L93.99 437.73 L93.87 436.41 L93.76 434.96 L93.96 433.9 L93.85 432.04 L94 430.67 L93.91 429.68 L93.97 428.1 L94.21 426.83 L94.15 424.88 L93.5 423.5 L94.42 422.13 L94.55 420.78 L93.62 419.26 L94.52 417.97 L93.79 416.96 L93.53 415.18 L95.09 413.56 L94.42 412.61 L93.95 414.43 L94.49 415.69 L94.61 417.24 L94.57 417.89 L94.55 419.12 L94.68 420.48 L94.61 422.57 L94.64 424.18 L94.69 425.11 L94.77 423.68 L94.66 422.48 L94.9 421.18 L94.97 419.56 L95.07 420.48 L95.18 422.07 L95.21 423.72 L95.15 425 L95.05 426.54 L95.18 427.81 L94.82 429.27 L95.32 431.07 L95.89 432.1 L96.11 433.09 L95.25 434.83 L95 433.1 L95.65 432.53 L95.71 430.9 L95.53 429.28 L95.81 458.44 L96.33 460.26 L94.94 461.57 L95.5 462.53 L96.27 464.16 L96.19 465.22 L96.44 466.81 L95.56 468 L95.34 470.03 L95.49 471.27 L95.84 472.18 L96.33 474 L96.08 475.11 L95.85 473.75 L95.32 472.54 L95.3 471.41 L96.22 469.56 L96.5 492.47 L96.29 490.45 L96.6 488.81 L96.14 488.18 L97.19 486.22 L97.8 484.66 L97.32 482.96 L97.3 481.84 L98.18 480.62 L97.37 479.13 L97.36 477.46 L97.83 476.9 L97.6 474.93 L97.61 473.52 L97.89 472.33 L97.98 471.15 L97.86 470.02 L98.41 468.68 L98.73 466.5 L98.48 464.93 L97.48 464.18 L98.41 462.52 L98.21 461.21 L98.58 459.83 L98.88 461.46 L98.98 462.86 L99.18 464.01 L98.9 465.17 L98.66 467.25 L99 468.38 L98.84 469.51 L98.87 470.54 L99.19 472.71 L99.21 473.72 L99.22 474.91 L99.32 476.72 L99.36 478.15 L99.28 479.28 L99.31 480.76 L99.61 482.29 L99.32 482.77 L99.69 484.66 L99.74 485.79 L99.55 487.32 L99.54 488.04 L99.76 490.33 L99.85 491.67 L99.97 492.47 L101.36 491.78 L102.75 493.17 L104.14 494.95 L109.28 494.95 L109.17 493.85 L109.35 491.98 L109.55 491.24 L109.68 489.72 L109.49 488.38 L109.5 487.52 L109.6 485.49 L109.82 484.85 L109.6 483.27 L109.7 481.71 L109.77 480.3 L109.83 479.28 L109.89 477.72 L110.35 476.96 L110.4 475.08 L109.51 473.21 L109.93 472.48 L110.65 470.6 L110.1 469.76 L110.57 467.9 L111.1 466.31 L110.98 465.44 L110.64 463.64 L110.24 462.65 L110.67 461.22 L111.18 459.74 L110.65 458.24 L111.24 456.18 L111.23 455.29 L111.22 453.58 L111.37 455.04 L111.3 456.7 L111.39 457.45 L111.29 458.48 L111.65 459.81 L111.56 461.98 L111.9 463.21 L111.12 464.55 L111.72 465.31 L112.08 466.56 L111.5 468.34 L112.03 470.04 L112.22 470.54 L111.78 472.33 L112.2 473.43 L112.23 475.3 L112.12 477 L112.15 477.5 L112.16 478.78 L111.89 481.06 L112.19 481.83 L112.25 483.88 L111.92 484.38 L111.73 486.47 L112.02 487.65 L112.47 489 L112.71 490.89 L112.67 492.06 L112.87 493.83 L113.17 494.95 L176.22 494.95 L176.4 493.41 L176.52 492.09 L175.91 490.89 L176.29 488.9 L176.44 487.73 L176.78 486.22 L176.7 485.16 L176.15 483.43 L176.58 482.39 L177.03 481.18 L177.36 479.3 L177.29 478.05 L177.31 476.09 L177.51 474.83 L177.98 473.49 L177.61 472.33 L178.31 430.67 L178.7 429.73 L177.83 428.2 L178.74 425.99 L178.88 424.75 L178.27 423.4 L178.9 421.98 L178.91 420.5 L178.91 419.88 L179.03 418.06 L179 416.78 L179.09 415.74 L179.19 414.61 L178.9 413.32 L179.04 411.6 L179.02 410.2 L179.09 409.34 L179.19 407.89 L179.34 405.98 L179.19 405.04 L179.17 403.73 L179.21 402.3 L179.24 400.92 L179.51 399.7 L179.53 398.07 L179.42 397.06 L179.83 430.67 L179.97 432.41 L179.84 433.23 L180.07 434.83 L180.04 436.49 L179.97 437.34 L180.25 439.45 L180.17 440.81 L180.41 442.23 L180.2 443.04 L180.39 444.56 L180.94 472.33 L181.5 494.95 L196.22 494.95 L196.78 458.44 L197.33 430.67 L197.75 458.44 L198.17 494.95 L208.17 494.95 L208.67 493.72 L208.67 492.26 L208.89 490.86 L208.19 488.78 L207.97 488.01 L208.66 486.11 L208.58 484.83 L208.26 486.29 L209.26 487.62 L209.28 489 L208.69 490.19 L209.93 492.02 L209.63 493.36 L209.69 494.95 L219.28 494.95 L219.39 493.83 L219.25 492.42 L219.45 490.61 L219.45 489.75 L219.37 488.56 L219.44 487.44 L219.5 485.51 L219.3 484.58 L219.32 483.27 L219.51 481.39 L219.36 480.25 L219.42 479.65 L219.56 477.89 L219.44 476.68 L219.48 475.1 L219.59 473.78 L219.55 472.8 L219.65 470.59 L219.62 469.9 L219.64 468.41 L219.55 467.14 L219.71 465.45 L219.96 464.09 L219.81 462.93 L220.06 461.7 L219.99 460.32 L219.97 458.44 L220.17 457.29 L219.71 456.22 L219.99 454.21 L220.12 453.39 L220.2 451.72 L220.39 450.72 L220.63 449.07 L220.3 448.04 L220.39 446.64 L220.18 448.07 L220.48 449.38 L220.71 450.18 L220.69 452.01 L220.73 453.58 L220.83 454.26 L220.72 455.6 L220.53 457.02 L220.57 458.92 L220.48 459.64 L220.94 461.22 L221.64 462.38 L221.08 464.14 L221.45 465.11 L221.31 467.08 L221.5 467.78 L221.6 469.29 L221.73 471.12 L221.64 472.33 L221.57 474.23 L221.74 474.93 L221.93 476.86 L221.85 478.02 L222.06 479.36 L222.02 480.29 L222.1 482.22 L222.08 483.45 L222.3 484.76 L222.33 486.22 L222.65 487.29 L223.01 489.17 L223.09 490.8 L223.44 491.78 L223.47 490.83 L224 488.99 L224.04 487.37 L224.42 486.22 L224.51 485.33 L224.67 483.77 L224.69 482.52 L224.87 480.39 L224.95 478.76 L224.73 477.47 L225.19 476.17 L225.11 475.11 L224.47 476.82 L225.92 477.5 L225.69 479.73 L226.28 481.12 L225.97 482.54 L225.4 483.9 L226.56 484.49 L225.81 486.22 L225.56 488.28 L225.92 489.35 L225.81 491.25 L226.78 492.47 L227.06 493.61 L228.17 494.95 L234.14 494.95 L234.64 493.49 L234.3 492.18 L234.73 490.65 L234.56 489 L235.4 490.91 L235.53 492.47 L235.97 490.88 L236.5 489.69 L236.84 491.06 L237.61 493.17 L238.67 493.94 L239.69 494.95 L390.2 494.95" stroke="#000" stroke-width="0.5" fill="none" stroke-linejoin="round"/>
<path d="M85.4 395.2h2.7 M85.4 444.85h2.7" stroke="#555" stroke-width="0.5" fill="none"/>
<path d="M139.46 494.5v-8.8M196.42 494.5v-8.8M253.38 494.5v-8.8M310.34 494.5v-8.8M367.3 494.5v-8.8M424.26 494.5v-8.8M481.22 494.5v-8.8M538.18 494.5v-8.8M125.51 494.5v-2.7M165.62 494.5v-2.7M205.73 494.5v-2.7M245.83 494.5v-2.7M285.94 494.5v-2.7M326.05 494.5v-2.7M366.16 494.5v-2.7M406.27 494.5v-2.7M446.38 494.5v-2.7M486.48 494.5v-2.7M526.59 494.5v-2.7M566.7 494.5v-2.7" stroke="#333" stroke-width="0.5" fill="none"/>
<path d="M85.4 394.9V495.05" stroke="#6a6a6a" stroke-width="1.5" fill="none"/>
<path d="M84.65 494.5H566.7" stroke="#383838" stroke-width="1.0" fill="none"/>
<text x="68.3" y="398.5" font-size="10">1.0</text>
<text x="67.4" y="448.35" font-size="10" textLength="14.9" lengthAdjust="spacingAndGlyphs">0.5</text>
<text x="67.4" y="499" font-size="10" textLength="14.9" lengthAdjust="spacingAndGlyphs">0.0</text>
<text x="128.36" y="506" font-size="10">1000</text>
<text x="185.32" y="506" font-size="10">2000</text>
<text x="242.28" y="506" font-size="10">3000</text>
<text x="299.24" y="506" font-size="10">4000</text>
<text x="356.2" y="506" font-size="10">5000</text>
<text x="413.16" y="506" font-size="10">6000</text>
<text x="470.12" y="506" font-size="10">7000</text>
<text x="527.08" y="506" font-size="10">8000</text>
</g>
<g>
<path d="M101.36 558.2v3.3M103.44 558.2v3.3M107.33 558.2v3.3M110.39 558.2v3.3M118.44 558.2v3.3M121.22 558.2v3.3M122.19 558.2v3.3M123.58 558.2v3.3M133.31 558.2v3.3M140.25 558.2v3.3M143.72 558.2v3.3M148.17 558.2v3.3M161.78 558.2v3.3M168.44 558.2v3.3M178.31 558.2v3.3M182.06 558.2v3.3M198.44 558.2v3.3M206.36 558.2v3.3M208.72 558.2v3.3M213.31 558.2v3.3M217.06 558.2v3.3M218.86 558.2v3.3M220.25 558.2v3.3M230.39 558.2v3.3M231.22 558.2v3.3M232.06 558.2v3.3M232.89 558.2v3.3M233.72 558.2v3.3M234.56 558.2v3.3M235.39 558.2v3.3M244.28 558.2v3.3M245.11 558.2v3.3M245.67 558.2v3.3M246.78 558.2v3.3M249.56 558.2v3.3M273.58 558.2v3.3M280.53 558.2v3.3M287.47 558.2v3.3M294.42 558.2v3.3M302.33 558.2v3.3M306.33 558.2v3.3M308.35 558.2v3.3M310.21 558.2v3.3M312.07 558.2v3.3M314.09 558.2v3.3M316.11 558.2v3.3M318.28 558.2v3.3M320.3 558.2v3.3M323.4 558.2v3.3M325.73 558.2v3.3M327.28 558.2v3.3M331.17 558.2v3.3M332.72 558.2v3.3M335.82 558.2v3.3M337.37 558.2v3.3M338.93 558.2v3.3M344.67 558.2v3.3M352.43 558.2v3.3M359.57 558.2v3.3M366.56 558.2v3.3" stroke="#707070" stroke-width="0.5" fill="none"/>
<path d="M85.67 604.08 L86.78 606.17 L88.17 606.86 L90.03 606.29 L90.94 606.17 L92.72 605.58 L93.72 605.47 L95.11 606.44 L96.74 605.52 L97.89 604.78 L98.36 606.49 L98.58 607.95 L99.28 607.95 L136.08 607.95 L136.5 585.33 L136.92 557.56 L136.89 559.35 L137.04 560.22 L136.98 561.92 L136.71 563.31 L137.44 564.24 L137.54 566.39 L137.72 567.68 L138.07 568.69 L137.41 570.17 L137.47 571.44 L137.89 607.95 L152.06 607.95 L152.16 606.62 L152.64 605.24 L153.04 603.25 L153.17 602 L153.46 600.05 L153.62 598.57 L154.14 597.14 L154.61 598.28 L154.8 600.78 L155.11 602 L155.02 603.81 L156.22 604.78 L158.01 606.3 L158.31 607.95 L173.72 607.95 L174.68 607.06 L174.39 605.05 L175.39 604.08 L174.71 605.19 L176.45 606.37 L175.94 607.95 L185.11 607.95 L185.73 606.07 L185.66 604.86 L185.57 603.73 L185.36 602.43 L185.49 600.91 L185.79 599.12 L185.34 597.83 L185.94 596.44 L186.5 569.36 L186.87 570.39 L186.75 571.85 L186.75 573.15 L186.76 574.87 L186.85 575.77 L186.81 577.31 L187.04 578.34 L187.06 579.78 L187.25 581.4 L187.17 582.44 L187.13 584.01 L187.55 584.89 L187.56 587.06 L187.61 587.95 L187.71 589.29 L187.61 590.89 L187.63 589.96 L188.04 588.16 L188.31 586.47 L188.44 585.33 L189 557.56 L188.54 556.64 L189.43 555.31 L189.16 553.72 L189.38 551.95 L188.83 551.11 L189.14 549.52 L190.01 548.88 L188.92 547.61 L188.76 545.35 L189.5 544.42 L189.29 542.75 L189.26 541.81 L189.75 541.03 L189.13 539.01 L189.06 538.09 L189.56 536.72 L189.47 535.16 L189.51 534.34 L189.67 532.24 L189.68 531.27 L189.81 530.1 L189.9 528.18 L190.05 526.63 L189.82 525.99 L189.87 524.66 L189.92 523.16 L190.1 521.44 L190.11 520.06 L190.23 518.88 L190.62 517.44 L189.71 515.41 L190.39 513.81 L191.06 515.39 L190.56 516.85 L191.14 518.69 L190.55 519.62 L190.63 520.86 L191.08 522.83 L191.36 523.96 L190.73 525.37 L191.51 527.33 L192.03 528.1 L191.98 529.48 L190.87 530.7 L191.5 532.56 L191.17 533.98 L191.22 534.88 L191.15 536.22 L191.75 537.7 L191.79 539.6 L191.36 541.39 L191.23 542.5 L191.78 543.67 L192.33 571.44 L192.61 604.78 L192.87 603.18 L192.62 601.73 L192.86 600.16 L192.44 599.73 L192.79 597.71 L192.95 596.72 L193 594.92 L193.14 593.64 L193.08 592 L193.01 590.65 L193.02 589.94 L193.06 587.73 L193.17 586.72 L193.14 588.37 L193.26 589.43 L193.37 590.61 L193.27 592.5 L193.24 592.97 L193.5 594.9 L193.4 596.54 L193.33 597.68 L193.5 598.7 L193.74 600.3 L193.45 601.1 L193.78 603.11 L193.74 604.49 L193.72 605.47 L194.02 606.65 L194.56 607.95 L195.25 585.33 L195.61 587.12 L195.94 588.11 L196.11 589.38 L195.95 591.22 L196.11 591.86 L196.42 593.44 L196.44 595.19 L196.45 596.15 L195.64 596.96 L195.98 598.87 L195.98 600.42 L196.35 600.85 L197.17 602.9 L196.23 603.52 L196.53 605.23 L196.47 606.15 L196.78 607.95 L202.19 607.95 L201.69 606.38 L202.18 605.15 L202.41 603.59 L202.97 601.72 L202.58 601.13 L202.94 599.5 L203.51 597.89 L202.89 596.44 L203.75 595.15 L202.6 593.95 L202.9 592.26 L203 591.11 L203.21 590.01 L203.68 588.59 L203.31 586.88 L204.29 585.56 L203.05 584.57 L203.39 582.92 L203.58 581.86 L204.35 583.04 L204.47 584.68 L203.28 585.41 L204.02 587.38 L203.66 588.47 L204.02 589.84 L203.76 591.52 L204.28 592.57 L203.61 593.92 L203.56 594.99 L204 596.44 L203.55 597.56 L204 599.7 L203.95 601.12 L205.19 602.14 L205.39 603.05 L204.56 604.78 L205.66 606.51 L205.39 607.95 L226.22 607.95 L226.19 606.63 L226.73 604.5 L226.21 603.51 L226.92 602 L227.27 600.95 L227.76 599.3 L227.01 597.85 L227.61 596.17 L227.28 597.29 L228.03 599.07 L227.78 600.3 L228.03 602.05 L228.17 602.93 L228.17 604.78 L228.44 606.67 L228.72 607.95 L384.1 607.95 L384.25 548.57 L384.41 512.87 L385.03 510.54 L385.96 508.99 L387.05 510.54 L387.02 512.36 L387.51 513.64 L387.82 540.81 L388.45 607.95 L390.2 607.95" stroke="#000" stroke-width="0.5" fill="none" stroke-linejoin="round"/>
<path d="M85.4 508.5h2.7 M85.4 558h2.7" stroke="#555" stroke-width="0.5" fill="none"/>
<path d="M139.46 607.5v-8.8M196.42 607.5v-8.8M253.38 607.5v-8.8M310.34 607.5v-8.8M367.3 607.5v-8.8M424.26 607.5v-8.8M481.22 607.5v-8.8M538.18 607.5v-8.8M125.51 607.5v-2.7M165.62 607.5v-2.7M205.73 607.5v-2.7M245.83 607.5v-2.7M285.94 607.5v-2.7M326.05 607.5v-2.7M366.16 607.5v-2.7M406.27 607.5v-2.7M446.38 607.5v-2.7M486.48 607.5v-2.7M526.59 607.5v-2.7M566.7 607.5v-2.7" stroke="#333" stroke-width="0.5" fill="none"/>
<path d="M85.4 508.2V608.05" stroke="#6a6a6a" stroke-width="1.5" fill="none"/>
<path d="M84.65 607.5H566.7" stroke="#383838" stroke-width="1.0" fill="none"/>
<text x="68.3" y="512.5" font-size="10">1.0</text>
<text x="67.4" y="562.4" font-size="10" textLength="14.9" lengthAdjust="spacingAndGlyphs">0.5</text>
<text x="67.4" y="612" font-size="10" textLength="14.9" lengthAdjust="spacingAndGlyphs">0.0</text>
<text x="128.36" y="619" font-size="10">1000</text>
<text x="185.32" y="619" font-size="10">2000</text>
<text x="242.28" y="619" font-size="10">3000</text>
<text x="299.24" y="619" font-size="10">4000</text>
<text x="356.2" y="619" font-size="10">5000</text>
<text x="413.16" y="619" font-size="10">6000</text>
<text x="470.12" y="619" font-size="10">7000</text>
<text x="527.08" y="619" font-size="10">8000</text>
</g>
<g>
<path d="M87.06 671.75v3.3M89.28 671.75v3.3M91.64 671.75v3.3M93.03 671.75v3.3M94.42 671.75v3.3M96.5 671.75v3.3M97.89 671.75v3.3M99.56 671.75v3.3M100.94 671.75v3.3M102.47 671.75v3.3M112.47 671.75v3.3M121.22 671.75v3.3M128.44 671.75v3.3M130.53 671.75v3.3M131.92 671.75v3.3M133.58 671.75v3.3M140.25 671.75v3.3M143.03 671.75v3.3M144.42 671.75v3.3M145.81 671.75v3.3M148.58 671.75v3.3M154.42 671.75v3.3M161.5 671.75v3.3M162.75 671.75v3.3M169.28 671.75v3.3M170.94 671.75v3.3M172.06 671.75v3.3M173.03 671.75v3.3M174 671.75v3.3M179.28 671.75v3.3M181.36 671.75v3.3M187.61 671.75v3.3M189 671.75v3.3M192.47 671.75v3.3M193.86 671.75v3.3M195.67 671.75v3.3M197.33 671.75v3.3M203.58 671.75v3.3M214.28 671.75v3.3M218.17 671.75v3.3M220.25 671.75v3.3M235.53 671.75v3.3M238.31 671.75v3.3M240.39 671.75v3.3M245.25 671.75v3.3M247.33 671.75v3.3M253.44 671.75v3.3M256.92 671.75v3.3M259.69 671.75v3.3M261.5 671.75v3.3M263.44 671.75v3.3M266.64 671.75v3.3M267.61 671.75v3.3M271.22 671.75v3.3M274.28 671.75v3.3M275.67 671.75v3.3M278.44 671.75v3.3M281.22 671.75v3.3M282.61 671.75v3.3M285.67 671.75v3.3M289.28 671.75v3.3M292.33 671.75v3.3M296.5 671.75v3.3M300.39 671.75v3.3M303.17 671.75v3.3M304.83 671.75v3.3M307.61 671.75v3.3M309.69 671.75v3.3M311.5 671.75v3.3M314.28 671.75v3.3M315.94 671.75v3.3M318.03 671.75v3.3M321.85 671.75v3.3M324.96 671.75v3.3M328.06 671.75v3.3M330.08 671.75v3.3M331.94 671.75v3.3M334.27 671.75v3.3M336.29 671.75v3.3M338.15 671.75v3.3M340.01 671.75v3.3M342.5 671.75v3.3M346.69 671.75v3.3M349.79 671.75v3.3M353.36 671.75v3.3M356.78 671.75v3.3M358.64 671.75v3.3M361.13 671.75v3.3M364.23 671.75v3.3M366.56 671.75v3.3M372.3 671.75v3.3M374.63 671.75v3.3M376.96 671.75v3.3M379.29 671.75v3.3M381.62 671.75v3.3M383.48 671.75v3.3M385.5 671.75v3.3" stroke="#707070" stroke-width="0.5" fill="none"/>
<path d="M85.9 721.35 L106.92 721.35 L107.26 720.04 L107.89 717.78 L107.98 716.24 L107.95 715.45 L108.03 713.08 L108.38 711.98 L108.38 711.15 L108.6 709.55 L108.67 707.63 L108.69 706.57 L108.72 705.28 L108.88 703.49 L109.04 701.98 L108.77 700.95 L109.26 699.06 L109.31 697.25 L109.42 696.25 L109.57 698 L109.91 698.46 L109.53 699.78 L109.77 701.27 L109.86 703.05 L109.85 704.41 L109.89 705.83 L109.96 707.31 L110.28 708.07 L110.21 709.64 L110.11 710.83 L110.25 712.14 L110.36 713.43 L110.28 714.44 L110.27 715.93 L110.46 717.79 L110.56 718.22 L110.71 720.36 L110.67 721.35 L114.83 721.35 L114.81 720.1 L114.96 718.79 L115.29 716.9 L115.19 716.06 L115.43 714.63 L115.35 713.24 L115.67 711.83 L115.52 710.82 L115.67 709.44 L115.71 707.55 L116.33 706.25 L116.3 704.86 L116.29 703.74 L116.5 702.22 L116.71 704.06 L116.68 704.9 L116.99 706.27 L117.22 707.48 L117.33 709.44 L117.48 711.07 L117.79 712.29 L118.07 713.34 L118.44 715 L118.32 714.09 L118.61 711.96 L119.61 711.23 L118.54 709.64 L119.28 708.06 L120.29 709.23 L118.73 710.52 L119.9 712.34 L119.76 714.07 L119.83 715 L119.87 716.8 L120.2 718.54 L120.3 719.53 L120.39 721.35 L124.69 721.35 L124.87 720.28 L125.39 718.47 L125.91 720.18 L126.08 721.35 L157.61 721.35 L157.97 719.82 L157.87 718.29 L158.44 717.59 L158.44 715.69 L159.02 717.89 L159.28 719.17 L160.11 721.35 L165.11 721.35 L165.74 720.34 L166.69 718.78 L166.22 717.5 L166.49 719.31 L166.88 719.79 L167.06 721.35 L205.39 721.35 L206.43 719.48 L206.08 717.78 L205.81 716.62 L206.08 715.11 L206.29 714.08 L206.34 711.74 L206.52 710.58 L206.49 709.25 L206.47 707.65 L206.69 706.87 L206.58 705.6 L206.78 703.89 L206.87 702.4 L207 701.54 L207.51 699.52 L207.61 698.33 L207.96 696.58 L208 695.44 L208.17 694.33 L208.31 693.18 L208.97 692.27 L208.44 690.42 L209.2 691.48 L208.73 693.49 L208.77 694.62 L208.07 696.34 L208.8 697.62 L208.75 698.39 L207.88 700.37 L207.81 700.92 L208.48 702.85 L208.93 704.36 L209.03 705.73 L208.89 707.27 L207.75 708.47 L209.45 709.05 L209.03 711.24 L208.72 712.22 L208.33 713.12 L209.31 714.9 L208.89 716.04 L209.4 717.82 L208.69 718.51 L208.56 719.95 L209.14 721.35 L224 721.35 L223.34 719.51 L223.6 719.06 L224.68 717.34 L224.48 715.95 L224.5 714.67 L225.05 713.76 L224.83 712.22 L225.27 711.24 L225.27 709.42 L225.12 708.31 L224.81 706.73 L225.39 705.28 L225.69 706.85 L225.44 707.7 L225.89 709.15 L225.67 710.73 L226.34 712.65 L225.44 713.9 L225.94 715 L226.66 713.17 L226.87 711.98 L226.76 711.04 L226.78 709.44 L226.61 708.12 L227.42 707.19 L227.05 705.41 L226.98 703.84 L227.01 702.47 L227.41 701.1 L227.61 699.57 L227.33 698.33 L227.89 668.47 L228.44 698.33 L228.39 699.28 L228.17 701.02 L228.71 702.46 L228.87 703.38 L228.83 705.52 L229 706.67 L229.56 705.97 L229.62 707.02 L229.11 708.52 L229.34 710.79 L229.31 711.97 L229.92 713.65 L230.11 715 L230.38 716.89 L230.83 718.07 L230.43 719.36 L230.94 721.35 L390.2 721.35" stroke="#000" stroke-width="0.5" fill="none" stroke-linejoin="round"/>
<path d="M85.4 622.2h2.7 M85.4 671.55h2.7" stroke="#555" stroke-width="0.5" fill="none"/>
<path d="M139.46 720.9v-8.8M196.42 720.9v-8.8M253.38 720.9v-8.8M310.34 720.9v-8.8M367.3 720.9v-8.8M424.26 720.9v-8.8M481.22 720.9v-8.8M538.18 720.9v-8.8M125.51 720.9v-2.7M165.62 720.9v-2.7M205.73 720.9v-2.7M245.83 720.9v-2.7M285.94 720.9v-2.7M326.05 720.9v-2.7M366.16 720.9v-2.7M406.27 720.9v-2.7M446.38 720.9v-2.7M486.48 720.9v-2.7M526.59 720.9v-2.7M566.7 720.9v-2.7" stroke="#333" stroke-width="0.5" fill="none"/>
<path d="M85.4 621.9V721.45" stroke="#6a6a6a" stroke-width="1.5" fill="none"/>
<path d="M84.65 720.9H566.7" stroke="#383838" stroke-width="1.3" fill="none"/>
<text x="68.3" y="625.5" font-size="10">1.0</text>
<text x="67.4" y="675.55" font-size="10" textLength="14.9" lengthAdjust="spacingAndGlyphs">0.5</text>
<text x="67.4" y="725.4" font-size="10" textLength="14.9" lengthAdjust="spacingAndGlyphs">0.0</text>
<text x="128.36" y="732" font-size="10">1000</text>
<text x="185.32" y="732" font-size="10">2000</text>
<text x="242.28" y="732" font-size="10">3000</text>
<text x="299.24" y="732" font-size="10">4000</text>
<text x="356.2" y="732" font-size="10">5000</text>
<text x="413.16" y="732" font-size="10">6000</text>
<text x="470.12" y="732" font-size="10">7000</text>
<text x="527.08" y="732" font-size="10">8000</text>
</g>
<path d="M65 47.5 Q58.3 48.5 58.3 54.5V209.4C58.3 214.9 55.5 218 51 218.4C55.5 218.8 58.3 221.9 58.3 227.4V381.2Q58.3 387.2 65 388.2" stroke="#333" stroke-width="0.6" fill="none"/>
<path d="M65 388.2 Q58.3 389.2 58.3 395.2V549.6C58.3 555.1 55.5 558.2 51 558.6C55.5 559 58.3 562.1 58.3 567.6V721.7Q58.3 727.7 65 728.7" stroke="#333" stroke-width="0.6" fill="none"/>
<text transform="translate(48 218.1) rotate(-90)" font-size="10" text-anchor="middle" textLength="72.4" lengthAdjust="spacing">Direct Sequence</text>
<text transform="translate(48.2 558.6) rotate(-90)" font-size="10" text-anchor="middle" textLength="118.3" lengthAdjust="spacing">Complementary Sequence</text>
<text x="326.7" y="749.3" font-size="10" text-anchor="middle" textLength="83.4" lengthAdjust="spacing">Nucleotide Position</text>
</svg></body></html>
